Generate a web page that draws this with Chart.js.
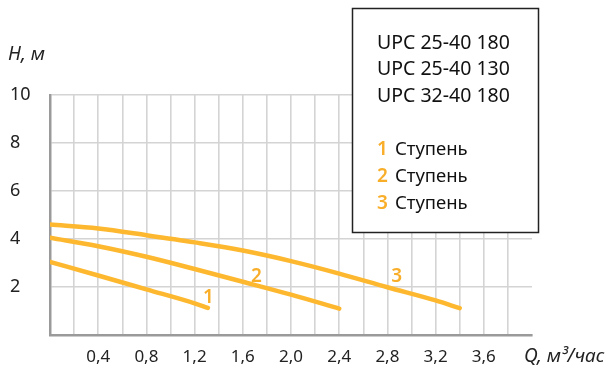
<!DOCTYPE html>
<html>
<head>
<meta charset="utf-8">
<script src="https://cdn.jsdelivr.net/npm/chart.js@4"></script>
<style>
    body { margin: 0; background: #fff; }
    #wrap { width: 610px; height: 373px; position: relative; }
</style>
</head>
<body>
<div id="wrap"><canvas id="grafica"></canvas></div>
<script>
// напорные характеристики по ступеням: Q, м3/час -> H, м
const q1 = [0, 0.4, 0.8, 1.2, 1.31];
const h1 = [3.05, 2.48, 1.9, 1.32, 1.13];

const q2 = [0, 0.4, 0.8, 1.2, 1.6, 2.0, 2.4];
const h2 = [4.05, 3.7, 3.26, 2.75, 2.22, 1.68, 1.1];

const q3 = [0, 0.4, 0.8, 1.2, 1.6, 2.0, 2.4, 2.8, 3.2, 3.4];
const h3 = [4.6, 4.44, 4.16, 3.86, 3.52, 3.08, 2.56, 1.99, 1.44, 1.12];

const ступени = ['1', '2', '3'];
const модели = ['UPC 25-40 180', 'UPC 25-40 130', 'UPC 32-40 180'];
const подписьСтупени = 'Ступень';

// где стоят номера ступеней у кривых (в единицах осей)
const меткиКривых = [
    { q: 1.314, h: 1.56 },
    { q: 1.714, h: 2.42 },
    { q: 2.877, h: 2.42 }
];

const ОРАНЖ = '#FDB830';
const ОРАНЖ_ТЕКСТ = '#F9AE2A';
const ШРИФТ = '"Noto Sans", sans-serif';

function точки(qs, hs) {
    return qs.map((q, i) => ({ x: q, y: hs[i] }));
}

function кривая(qs, hs) {
    return {
        data: точки(qs, hs),
        borderColor: ОРАНЖ,
        borderWidth: 4.5,
        borderCapStyle: 'round',
        pointRadius: 0,
        fill: false,
        cubicInterpolationMode: 'monotone'
    };
}

const оформление = {
    id: 'оформление',
    afterDraw(chart) {
        const ctx = chart.ctx;
        const x = chart.scales.x;
        const y = chart.scales.y;
        ctx.save();

        // подписи осей
        ctx.fillStyle = '#222';
        ctx.font = 'italic 19px ' + ШРИФТ;
        ctx.textAlign = 'left';
        ctx.textBaseline = 'middle';
        ctx.fillText('H, м', 8, 55);
        ctx.fillText('Q, м³/час', 524, 357);

        // номера ступеней у кривых
        ctx.fillStyle = ОРАНЖ_ТЕКСТ;
        ctx.font = '600 19px ' + ШРИФТ;
        ctx.textAlign = 'center';
        меткиКривых.forEach((m, i) => {
            ctx.fillText(ступени[i], x.getPixelForValue(m.q), y.getPixelForValue(m.h));
        });

        // блок с моделями и ступенями
        ctx.fillStyle = '#fff';
        ctx.fillRect(352.5, 8.5, 186, 224);
        ctx.strokeStyle = '#222';
        ctx.lineWidth = 1.5;
        ctx.strokeRect(352.5, 8.5, 186, 224);

        ctx.textAlign = 'left';
        ctx.font = '19.5px ' + ШРИФТ;
        ctx.fillStyle = '#111';
        модели.forEach((t, i) => {
            ctx.fillText(t, 377, 43 + i * 26.7);
        });
        ступени.forEach((s, i) => {
            const ty = 150 + i * 26.7;
            ctx.fillStyle = ОРАНЖ_ТЕКСТ;
            ctx.font = '600 19px ' + ШРИФТ;
            ctx.fillText(s, 377, ty);
            ctx.fillStyle = '#111';
            ctx.font = '18.5px ' + ШРИФТ;
            ctx.fillText(подписьСтупени, 395, ty);
        });
        ctx.restore();
    }
};

const ctx = document.getElementById('grafica').getContext('2d');
new Chart(ctx, {
    type: 'line',
    data: {
        datasets: [кривая(q1, h1), кривая(q2, h2), кривая(q3, h3)]
    },
    options: {
        responsive: true,
        maintainAspectRatio: false,
        animation: false,
        layout: { padding: { left: 10, top: 95, right: 78, bottom: 0 } },
        plugins: {
            legend: { display: false },
            tooltip: { enabled: false }
        },
        scales: {
            x: {
                type: 'linear',
                min: 0,
                max: 4,
                afterFit(s) { s.height = 38; },
                border: { color: '#9a9a9a', width: 2.5 },
                grid: {
                    drawTicks: false,
                    lineWidth: 1.6,
                    color: c => (c.tick && c.tick.value >= 4 ? 'rgba(0,0,0,0)' : '#d4d4d4')
                },
                ticks: {
                    stepSize: 0.2,
                    autoSkip: false,
                    maxRotation: 0,
                    padding: 12,
                    color: '#222',
                    font: { family: ШРИФТ, size: 17 },
                    callback(v) {
                        const n = Math.round(v * 10);
                        if (n === 0 || n >= 40 || n % 4 !== 0) return '';
                        return (n / 10).toFixed(1).replace('.', ',');
                    }
                }
            },
            y: {
                min: 0,
                max: 10,
                afterFit(s) { s.width = 40; },
                border: { color: '#9a9a9a', width: 2.5 },
                grid: {
                    drawTicks: false,
                    lineWidth: 1.6,
                    color: '#d4d4d4'
                },
                ticks: {
                    stepSize: 1,
                    crossAlign: 'far',
                    color: '#222',
                    font: { family: ШРИФТ, size: 18 },
                    callback(v) {
                        return v === 0 || v % 2 !== 0 ? '' : String(v);
                    }
                }
            }
        }
    },
    plugins: [оформление]
});
</script>
</body>
</html>
